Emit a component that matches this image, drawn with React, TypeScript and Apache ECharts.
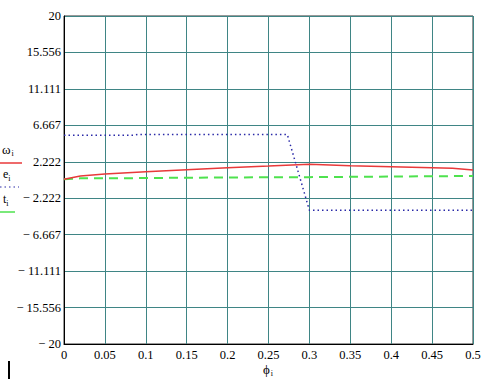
import React, { useEffect, useRef } from "react";
import * as echarts from "echarts";

const yTickLabels = ["− 20", "− 15.556", "− 11.111", "− 6.667", "− 2.222", "2.222", "6.667", "11.111", "15.556", "20"];
const xTicks = [0, 0.05, 0.1, 0.15, 0.2, 0.25, 0.3, 0.35, 0.4, 0.45, 0.5];

const omegaPhi = [0, 0.02, 0.05, 0.1, 0.15, 0.2, 0.25, 0.3, 0.35, 0.4, 0.45, 0.475, 0.5];
const omegaVal = [0.1, 0.49, 0.73, 1.0, 1.26, 1.5, 1.7, 1.91, 1.74, 1.62, 1.5, 1.42, 1.22];

const ePhi = [0, 0.085, 0.09, 0.273, 0.3, 0.5];
const eVal = [5.45, 5.45, 5.55, 5.55, -3.7, -3.7];

const tPhi = [0, 0.02, 0.05, 0.15, 0.25, 0.3, 0.4, 0.5];
const tVal = [0.1, 0.2, 0.2, 0.28, 0.33, 0.35, 0.42, 0.49];

const zip = (a: number[], b: number[]) => a.map((x, i) => [x, b[i]]);

export default function App() {
  const ref = useRef<HTMLDivElement>(null);
  useEffect(() => {
    const chart = echarts.init(ref.current!, undefined, { renderer: "svg" });
    const serif = "Liberation Serif";
    const gridColor = "#3f8585";
    chart.setOption({
      animation: false,
      backgroundColor: "#ffffff",
      grid: { left: 64, top: 16, width: 409, height: 328, show: true, borderColor: "#333", borderWidth: 1, backgroundColor: "transparent" },
      xAxis: {
        type: "value",
        min: 0,
        max: 0.5,
        interval: 0.05,
        axisLine: { show: true, onZero: false, lineStyle: { color: "#000", width: 1 } },
        axisTick: { show: false },
        splitLine: { show: true, lineStyle: { color: gridColor, width: 1 } },
        axisLabel: {
          fontFamily: serif,
          fontSize: 12.5,
          color: "#000",
          margin: 4,
          formatter: (v: number) => {
            const i = Math.round(v / 0.05);
            return String(xTicks[i]);
          },
        },
      },
      yAxis: {
        type: "value",
        min: -20,
        max: 20,
        interval: 40 / 9,
        axisLine: { show: true, onZero: false, lineStyle: { color: "#000", width: 1 } },
        axisTick: { show: false },
        splitLine: { show: true, lineStyle: { color: gridColor, width: 1 } },
        axisLabel: {
          fontFamily: serif,
          fontSize: 12.5,
          color: "#000",
          margin: 3,
          formatter: (v: number) => {
            const i = Math.round((v + 20) / (40 / 9));
            return yTickLabels[i] ?? "";
          },
        },
      },
      series: [
        {
          type: "line",
          data: zip(omegaPhi, omegaVal),
          showSymbol: false,
          lineStyle: { color: "#e8393a", width: 1.5 },
          z: 3,
        },
        {
          type: "line",
          data: zip(ePhi, eVal),
          showSymbol: false,
          lineStyle: { color: "#2a2aa8", width: 1.5, type: [1.5, 3] },
          z: 4,
        },
        {
          type: "line",
          data: zip(tPhi, tVal),
          showSymbol: false,
          lineStyle: { color: "#4ee24e", width: 2, type: [9, 6] },
          z: 2,
        },
      ],
      graphic: [
        {
          type: "text",
          left: 2,
          top: 143,
          style: {
            text: "{a|ω}{b|i}",
            rich: {
              a: { fontFamily: serif, fontSize: 13, fill: "#000" },
              b: { fontFamily: serif, fontSize: 8, fill: "#000", padding: [8, 0, 0, 1] },
            },
          },
        },
        { type: "line", shape: { x1: 0, y1: 163, x2: 22, y2: 163 }, style: { stroke: "#e8393a", lineWidth: 1.5 } },
        {
          type: "text",
          left: 3,
          top: 168,
          style: {
            text: "{a|e}{b|i}",
            rich: {
              a: { fontFamily: serif, fontSize: 12, fill: "#000" },
              b: { fontFamily: serif, fontSize: 8, fill: "#000", padding: [8, 0, 0, 0] },
            },
          },
        },
        { type: "line", shape: { x1: 0, y1: 187, x2: 19, y2: 187 }, style: { stroke: "#2a2aa8", lineWidth: 1.2, lineDash: [1.5, 3] } },
        {
          type: "text",
          left: 3,
          top: 193,
          style: {
            text: "{a|t}{b|i}",
            rich: {
              a: { fontFamily: serif, fontSize: 12, fill: "#000" },
              b: { fontFamily: serif, fontSize: 8, fill: "#000", padding: [8, 0, 0, 0] },
            },
          },
        },
        { type: "line", shape: { x1: 0, y1: 212, x2: 15, y2: 212 }, style: { stroke: "#4ee24e", lineWidth: 1.5 } },
        {
          type: "text",
          left: 263,
          top: 363,
          style: {
            text: "{a|ϕ}{b|i}",
            rich: {
              a: { fontFamily: serif, fontSize: 13, fill: "#000" },
              b: { fontFamily: serif, fontSize: 8, fill: "#000", padding: [8, 0, 0, 1] },
            },
          },
        },
        { type: "rect", shape: { x: 8, y: 361, width: 2, height: 18 }, style: { fill: "#000" } },
      ],
    });
    return () => chart.dispose();
  }, []);
  return <div ref={ref} style={{ position: "fixed", left: 0, top: 0, width: 496, height: 386 }} />;
}
